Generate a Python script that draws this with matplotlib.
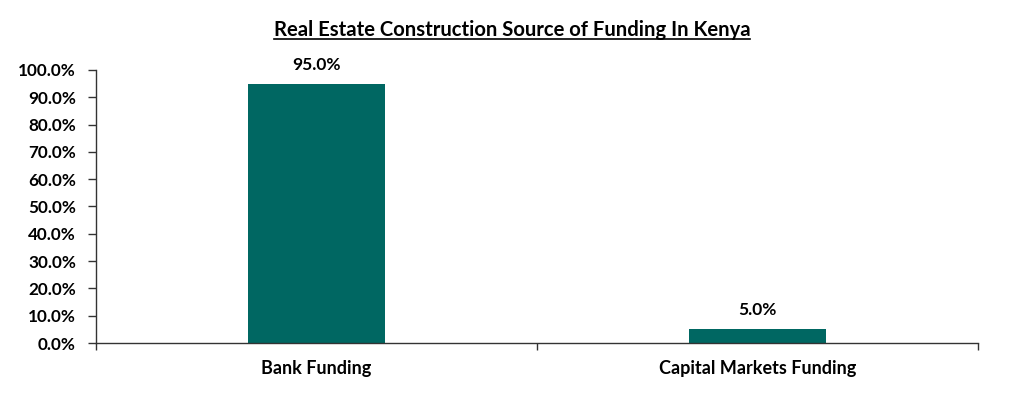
import numpy as np
import matplotlib
matplotlib.use('Agg')
import matplotlib.pyplot as plt
from matplotlib.ticker import FuncFormatter

categories = ['Bank Funding', 'Capital Markets Funding']
shares = [95.0, 5.0]
title = 'Real Estate Construction Source of Funding In Kenya'
bar_color = '#006762'


def main():
    plt.rcParams['font.family'] = ['Lato', 'DejaVu Sans']
    plt.rcParams['font.weight'] = 'bold'

    fig = plt.figure(figsize=(10.24, 3.96), dpi=100)
    ax = fig.add_axes([96 / 1024, 1 - 343 / 396, 882 / 1024, 273 / 396])

    x = np.arange(len(categories))
    bars = ax.bar(x, shares, width=0.31, color=bar_color)
    for b, v in zip(bars, shares):
        ax.annotate(f'{v:.1f}%', (b.get_x() + b.get_width() / 2, v),
                    xytext=(0, 8), textcoords='offset points',
                    ha='center', va='bottom', fontsize=12.5, fontweight='bold')

    ax.set_xlim(-0.5, len(categories) - 0.5)
    ax.set_ylim(0, 100)
    ax.set_yticks(np.arange(0, 101, 10))
    ax.yaxis.set_major_formatter(FuncFormatter(lambda v, p: f'{v:.1f}%'))
    ax.set_xticks(x)
    ax.set_xticklabels(categories)
    ax.set_xticks(np.arange(-0.5, len(categories)), minor=True)
    ax.tick_params(axis='x', which='major', length=0, pad=12, labelsize=13)
    ax.tick_params(axis='x', which='minor', length=5, width=1, color='#333333')
    ax.tick_params(axis='y', length=6, width=1, color='#333333', labelsize=12.3, pad=8.5)
    for t in ax.get_xticklabels() + ax.get_yticklabels():
        t.set_fontweight('bold')

    for s in ['top', 'right']:
        ax.spines[s].set_visible(False)
    for s in ['left', 'bottom']:
        ax.spines[s].set_color('#333333')
        ax.spines[s].set_linewidth(1)

    # title with underline ....................................................
    t = fig.text(0.5, 1 - 30 / 396, title, ha='center', va='center',
                 fontsize=14.6, fontweight='bold')
    fig.canvas.draw()
    bb = t.get_window_extent().transformed(fig.transFigure.inverted())
    fig.add_artist(plt.Line2D([bb.x0, bb.x1], [bb.y0 + 0.002, bb.y0 + 0.002],
                              transform=fig.transFigure, color='black', lw=1.2))

    fig.savefig('out.png', dpi=100)


if __name__ == '__main__':
    main()
